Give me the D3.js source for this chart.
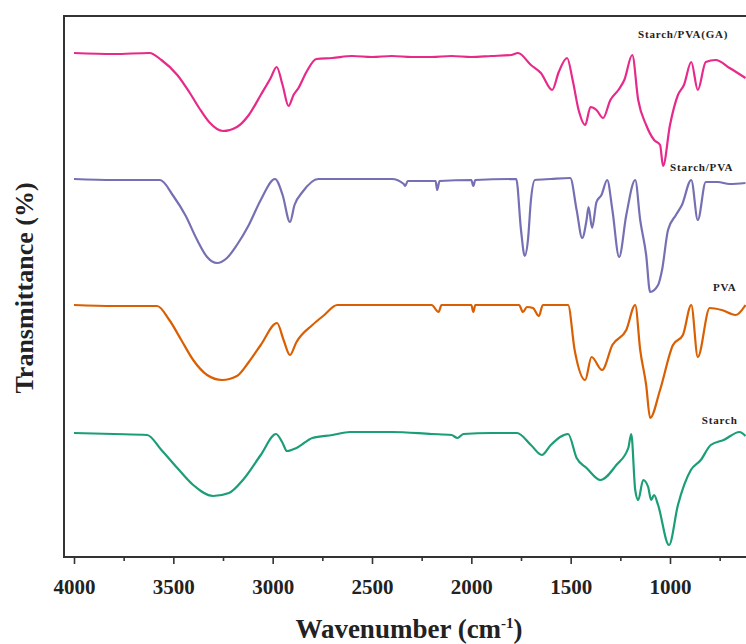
<!DOCTYPE html>
<html>
<head>
<meta charset="utf-8">
<script src="https://cdn.jsdelivr.net/npm/d3@7"></script>
<style>
  html, body { margin: 0; padding: 0; background: #fff; }
  svg { display: block; }
  text { font-family: "Liberation Serif", "Times New Roman", serif; font-weight: bold; fill: #222; }
</style>
</head>
<body>
<svg id="chart"></svg>
<script>
// FTIR spectra, offset transmittance (a.u.)
const starchWn = [4000, 3800, 3632, 3560, 3480, 3400, 3300, 3220, 3150, 3060, 2983, 2950, 2928, 2880, 2800, 2700, 2610, 2400, 2200, 2100, 2070, 2040, 1900, 1770, 1700, 1645, 1600, 1513, 1470, 1420, 1350, 1270, 1210, 1195, 1175, 1160, 1135, 1110, 1095, 1080, 1060, 1005, 960, 895, 845, 795, 730, 650, 620];
const starchT = [123, 122, 121, 106, 88, 71, 60, 63, 76, 101, 122, 113, 105, 108, 118, 121, 124, 124, 122, 121, 118, 122, 123, 123, 111, 101, 111, 122, 98, 88, 76, 91, 108, 122, 66, 56, 76, 69, 56, 61, 51, 11, 51, 86, 96, 111, 116, 124, 120];

const pvaWn = [4000, 3800, 3582, 3520, 3460, 3400, 3330, 3255, 3180, 3120, 3060, 2978, 2945, 2913, 2880, 2800, 2740, 2675, 2400, 2200, 2165, 2150, 2000, 1990, 1980, 1800, 1760, 1740, 1720, 1690, 1660, 1640, 1513, 1480, 1427, 1395, 1342, 1290, 1220, 1175, 1150, 1120, 1100, 1050, 985, 935, 893, 860, 800, 740, 670, 620];
const pvaT = [251, 250, 250, 236, 216, 196, 181, 176, 180, 194, 211, 233, 216, 201, 214, 231, 241, 251, 251, 251, 244, 251, 251, 244, 251, 251, 251, 244, 249, 248, 240, 251, 251, 206, 176, 199, 186, 211, 226, 251, 206, 171, 138, 166, 211, 221, 251, 199, 248, 246, 241, 251];

const blendWn = [4000, 3800, 3567, 3500, 3440, 3380, 3330, 3280, 3230, 3180, 3120, 3060, 2988, 2950, 2913, 2890, 2850, 2770, 2600, 2400, 2340, 2333, 2320, 2180, 2172, 2160, 2000, 1990, 1980, 1774, 1750, 1731, 1715, 1700, 1680, 1600, 1502, 1470, 1442, 1420, 1410, 1392, 1370, 1345, 1316, 1290, 1256, 1220, 1175, 1150, 1120, 1100, 1060, 1040, 1010, 970, 940, 893, 860, 820, 760, 700, 620];
const blendT = [377, 376, 376, 360, 341, 316, 299, 293, 298, 311, 331, 356, 377, 361, 334, 351, 364, 377, 377, 377, 372, 370, 375, 375, 366, 375, 376, 370, 376, 377, 326, 300, 316, 356, 376, 377, 378, 346, 318, 336, 349, 328, 354, 361, 376, 346, 299, 341, 376, 336, 301, 264, 271, 286, 326, 341, 351, 376, 336, 374, 374, 372, 373];

const gaWn = [4000, 3800, 3620, 3560, 3480, 3420, 3370, 3320, 3250, 3180, 3120, 3060, 3010, 2980, 2950, 2920, 2895, 2870, 2830, 2780, 2700, 2600, 2500, 2400, 2300, 2200, 2100, 2000, 1900, 1800, 1765, 1700, 1650, 1593, 1560, 1518, 1490, 1460, 1427, 1400, 1370, 1337, 1300, 1260, 1230, 1190, 1160, 1120, 1080, 1050, 1035, 1000, 960, 930, 893, 860, 820, 770, 700, 620];
const gaT = [503, 502, 503, 496, 481, 464, 448, 434, 425, 429, 441, 461, 478, 489, 471, 450, 461, 468, 484, 497, 498, 500, 499, 500, 499, 499, 500, 499, 500, 501, 503, 491, 483, 466, 484, 498, 476, 446, 431, 449, 446, 438, 456, 466, 476, 501, 456, 431, 416, 411, 390, 431, 461, 471, 494, 466, 494, 496, 488, 478];

const seriesNames = ["Starch", "PVA", "Starch/PVA", "Starch/PVA(GA)"];
const seriesColors = ["#1b9e77", "#d95f02", "#7570b3", "#e7298a"];
// label anchor (wavenumber, a.u.)
const labelWn = [840, 784, 1000, 1161];
const labelT = [132, 265, 385, 518];

const majorTicks = [4000, 3500, 3000, 2500, 2000, 1500, 1000];
const minorTicks = [3750, 3250, 2750, 2250, 1750, 1250, 750];

const width = 746;
const height = 644;
const frame = { left: 64, top: 16, bottom: 557 };

const svg = d3.select("#chart").attr("width", width).attr("height", height);

const x = d3.scaleLinear().domain([4000, 1000]).range([74, 670]);
const y = d3.scaleLinear().domain([0, 540]).range([556, 16]);

const series = [
  { wn: starchWn, t: starchT },
  { wn: pvaWn, t: pvaT },
  { wn: blendWn, t: blendT },
  { wn: gaWn, t: gaT },
].map((s, i) => ({
  name: seriesNames[i],
  color: seriesColors[i],
  points: s.wn.map((w, j) => [w, s.t[j]]),
}));

const line = d3
  .line()
  .x((d) => x(d[0]))
  .y((d) => y(d[1]))
  .curve(d3.curveMonotoneX);

svg
  .append("g")
  .selectAll("path")
  .data(series)
  .join("path")
  .attr("d", (d) => line(d.points.slice().reverse()))
  .attr("fill", "none")
  .attr("stroke", (d) => d.color)
  .attr("stroke-width", 2.2)
  .attr("stroke-linejoin", "round");

svg
  .append("g")
  .selectAll("text")
  .data(series)
  .join("text")
  .attr("x", (d, i) => x(labelWn[i]))
  .attr("y", (d, i) => y(labelT[i]))
  .attr("font-size", 11)
  .attr("letter-spacing", 0.8)
  .text((d) => d.name);

// frame (right side runs off the picture)
svg
  .append("path")
  .attr("d", `M${width + 10},${frame.top}H${frame.left}V${frame.bottom}H${width + 10}`)
  .attr("fill", "none")
  .attr("stroke", "#333")
  .attr("stroke-width", 2);

const xAxis = svg
  .append("g")
  .attr("transform", `translate(0,${frame.bottom})`)
  .call(d3.axisBottom(x).tickValues(majorTicks).tickSize(7).tickPadding(15).tickFormat(d3.format("d")));
xAxis.select(".domain").remove();
xAxis.selectAll(".tick line").attr("stroke", "#333").attr("stroke-width", 1.6);
xAxis
  .selectAll(".tick text")
  .attr("font-size", 21)
  .attr("font-family", "Liberation Serif, serif")
  .attr("font-weight", "bold")
  .attr("fill", "#222");

const xMinor = svg
  .append("g")
  .attr("transform", `translate(0,${frame.bottom})`)
  .call(d3.axisBottom(x).tickValues(minorTicks).tickSize(4).tickFormat(""));
xMinor.select(".domain").remove();
xMinor.selectAll(".tick line").attr("stroke", "#333").attr("stroke-width", 1.6);

svg
  .append("text")
  .attr("x", 409)
  .attr("y", 638)
  .attr("text-anchor", "middle")
  .attr("font-size", 27)
  .text("Wavenumber (cm")
  .append("tspan")
  .attr("dy", -10)
  .attr("font-size", 15)
  .text("-1")
  .select(function () { return this.parentNode; })
  .append("tspan")
  .attr("dy", 10)
  .text(")");

svg
  .append("text")
  .attr("transform", "translate(33,288) rotate(-90)")
  .attr("text-anchor", "middle")
  .attr("font-size", 26)
  .text("Transmittance (%)");
</script>
</body>
</html>
